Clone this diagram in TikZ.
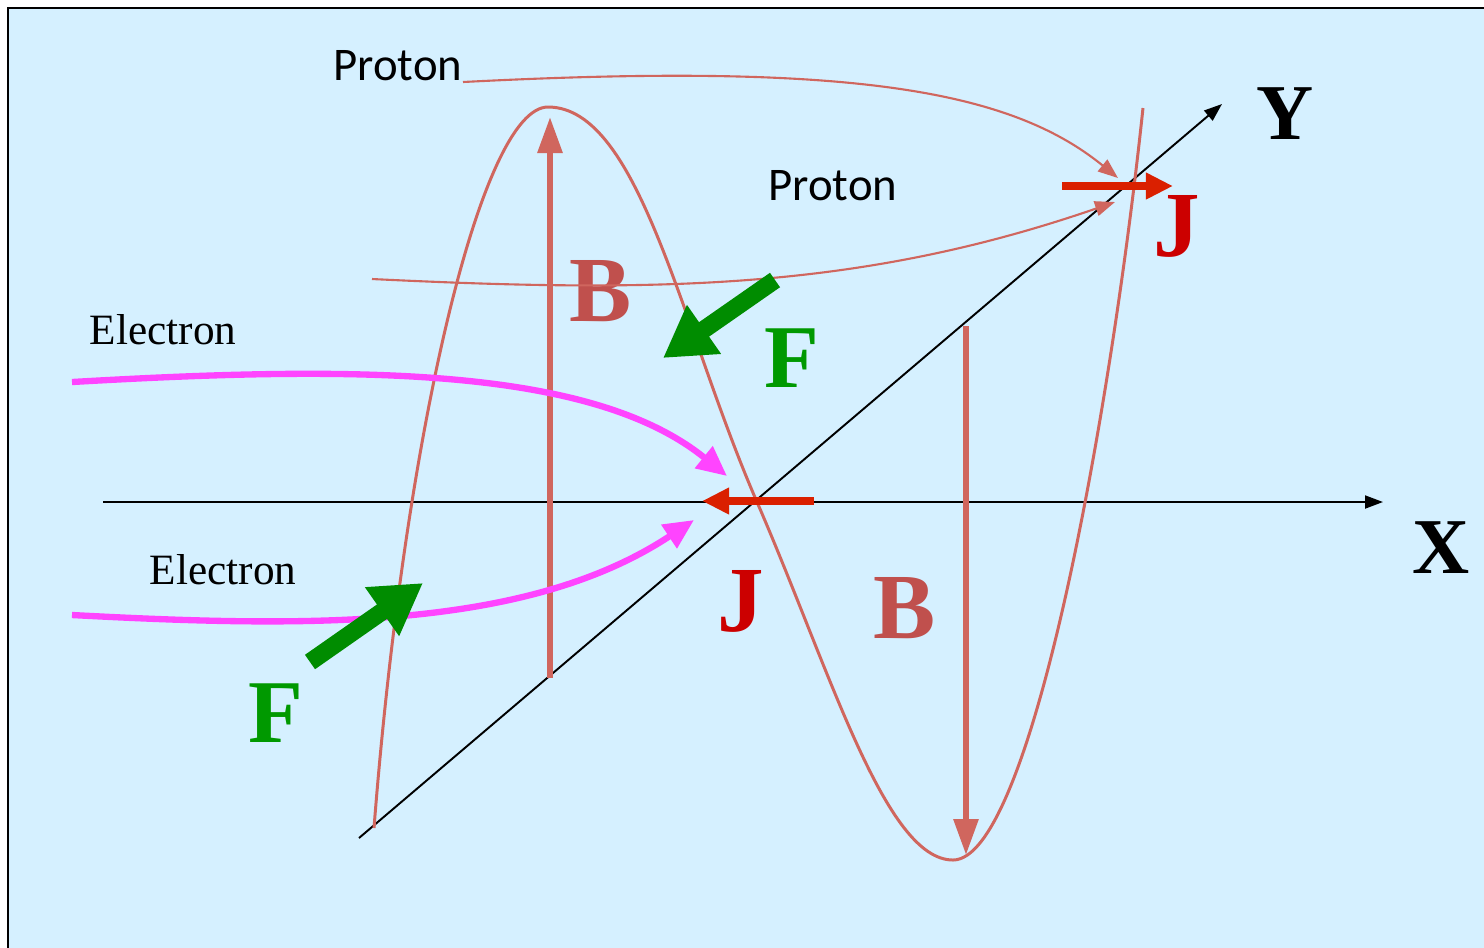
\documentclass[tikz,border=0pt]{standalone}
\usepackage{fontspec}
\setmainfont{Liberation Serif}
\newfontfamily\calfont{Carlito}
\usetikzlibrary{arrows.meta}
\definecolor{bg}{HTML}{D5F0FF}
\definecolor{wave}{HTML}{D0665E}
\definecolor{blab}{HTML}{C0504D}
\definecolor{jlab}{HTML}{CC0000}
\definecolor{jarr}{HTML}{DA2000}
\definecolor{farr}{HTML}{008C00}
\definecolor{flab}{HTML}{009900}
\definecolor{elec}{HTML}{FF44FF}
\tikzset{
  axis/.style={black, line width=0.55pt, -{Triangle[length=0.18cm,width=0.13cm]}},
  wavestyle/.style={wave, line width=0.85pt},
  barrow/.style={wave, line width=1.7pt, -{Triangle[length=0.36cm,width=0.24cm]}},
  jarrow/.style={jarr, line width=2.4pt, -{Triangle[length=0.27cm,width=0.25cm]}},
  farrow/.style={farr, line width=5pt, -{Triangle[length=0.5cm,width=0.56cm]}},
  earrow/.style={elec, line width=1.8pt, -{Triangle[length=0.3cm,width=0.27cm]}},
  parrow/.style={wave, line width=0.6pt, -{Triangle[length=0.2cm,width=0.15cm]}},
  biglab/.style={inner sep=0pt, font=\fontsize{26.5}{30}\selectfont\bfseries},
  axlab/.style={inner sep=0pt, font=\fontsize{22.5}{26}\selectfont\bfseries},
  plab/.style={inner sep=0pt, font=\calfont\fontsize{13.3}{16}\selectfont},
  elab/.style={inner sep=0pt, font=\fontsize{12.3}{15}\selectfont},
}
\begin{document}
\begin{tikzpicture}[x=0.01cm,y=-0.01cm]
\useasboundingbox (0,0) rectangle (1484,947);
\begin{scope}
\clip (0,0) rectangle (1484,947);
\draw[line width=0.7pt, fill=bg] (8,8) rectangle (1500,960);
\end{scope}

% axes
\coordinate (xs) at (103,502);
\coordinate (xe) at (1383,502);
\coordinate (ys) at (359,838);
\coordinate (ye) at (1222,104);
\draw[axis] (xs) -- (xe);
\draw[axis] (ys) -- (ye);
\node[axlab] (xl) at (1441,548) {X};
\node[axlab] (yl) at (1285,114) {Y};

% wave
\coordinate (w0) at (374,828);
\coordinate (w1) at (548,107);
\coordinate (w2) at (757,502);
\coordinate (w3) at (953,860);
\coordinate (w4) at (1143,108);
\draw[wavestyle] (w0) .. controls (405,430) and (482,107) .. (w1)
  .. controls (640,107) and (682,330) .. (w2)
  .. controls (830,670) and (885,860) .. (w3)
  .. controls (1030,860) and (1110,420) .. (w4);

% B arrows
\coordinate (b1s) at (550,678);
\coordinate (b1e) at (550,117);
\coordinate (b2s) at (966,326);
\coordinate (b2e) at (966,855);
\draw[barrow] (b1s) -- (b1e);
\draw[barrow] (b2s) -- (b2e);
\node[biglab, text=blab] (bl1) at (601,291) {B};
\node[biglab, text=blab] (bl2) at (905,608) {B};

% proton paths
\coordinate (p1s) at (463,82);
\coordinate (p1e) at (1118,178);
\coordinate (p2s) at (372,279);
\coordinate (p2e) at (1115,202);
\draw[parrow] (p1s) .. controls (850,62) and (1010,90) .. (p1e);
\draw[parrow] (p2s) .. controls (660,293) and (860,290) .. (p2e);
\node[plab] (pl1) at (398,66) {Proton};
\node[plab] (pl2) at (833,186) {Proton};

% electron paths
\coordinate (e1s) at (72,382);
\coordinate (e1e) at (727,476);
\coordinate (e2s) at (72,615);
\coordinate (e2e) at (694,520);
\draw[earrow] (e1s) .. controls (350,366) and (590,365) .. (e1e);
\draw[earrow] (e2s) .. controls (300,627) and (525,632) .. (e2e);
\node[elab] (el1) at (163,330) {Electron};
\node[elab] (el2) at (223,570) {Electron};

% J arrows
\coordinate (j1s) at (1062,186);
\coordinate (j1e) at (1173,186);
\coordinate (j2s) at (814,501);
\coordinate (j2e) at (702,501);
\draw[jarrow] (j1s) -- (j1e);
\draw[jarrow] (j2s) -- (j2e);
\node[biglab, text=jlab] (jl1) at (1177,226) {J};
\node[biglab, text=jlab] (jl2) at (741,601) {J};

% F arrows
\coordinate (f1s) at (775,280);
\coordinate (f1e) at (663,358);
\coordinate (f2s) at (310,662);
\coordinate (f2e) at (423,583);
\draw[farrow] (f1s) -- (f1e);
\draw[farrow] (f2s) -- (f2e);
\node[biglab, text=flab, font=\fontsize{25.5}{30}\selectfont\bfseries] (fl1) at (792,358) {F};
\node[biglab, text=flab, font=\fontsize{25.5}{30}\selectfont\bfseries] (fl2) at (276,713) {F};
\end{tikzpicture}
\end{document}
